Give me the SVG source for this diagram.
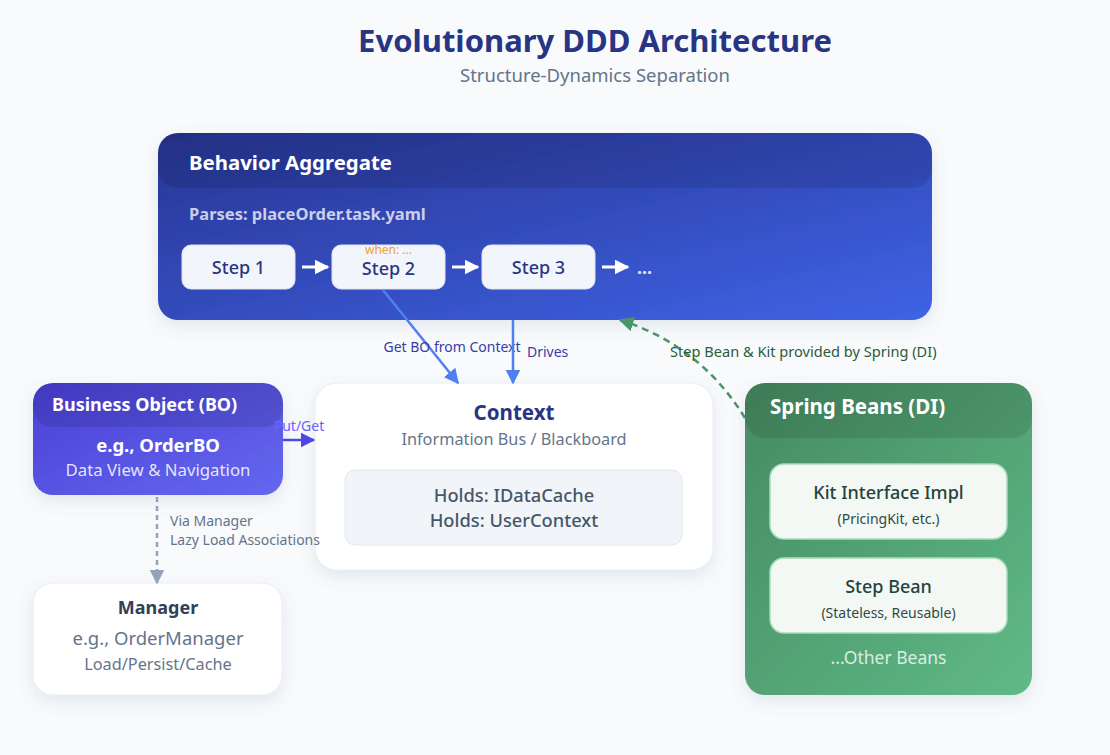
<svg xmlns="http://www.w3.org/2000/svg" width="1110" height="755" viewBox="0 0 1110 755">
<defs>
<linearGradient id="gBA" x1="0" y1="0" x2="1" y2="1">
<stop offset="0" stop-color="#283593"/>
<stop offset="1" stop-color="#3f63e6"/>
</linearGradient>
<linearGradient id="gBO" x1="0" y1="0" x2="1" y2="1">
<stop offset="0" stop-color="#4a3fd6"/>
<stop offset="1" stop-color="#6468ef"/>
</linearGradient>
<linearGradient id="gSB" x1="0" y1="0" x2="1" y2="1">
<stop offset="0" stop-color="#468a62"/>
<stop offset="1" stop-color="#5fba86"/>
</linearGradient>
<filter id="sh" x="-10%" y="-10%" width="120%" height="130%">
<feDropShadow dx="0" dy="6" stdDeviation="8" flood-color="#64748b" flood-opacity="0.15"/>
</filter>
<marker id="mBlue" viewBox="0 0 10 10" refX="9" refY="5" markerWidth="6" markerHeight="6" markerUnits="strokeWidth" orient="auto">
<path d="M0,0 L10,5 L0,10 z" fill="#5080f0"/>
</marker>
<marker id="mWhite" viewBox="0 0 10 10" refX="9" refY="5" markerWidth="5" markerHeight="5" markerUnits="strokeWidth" orient="auto">
<path d="M0,0 L10,5 L0,10 z" fill="#ffffff"/>
</marker>
<marker id="mIndigo" viewBox="0 0 10 10" refX="9" refY="5" markerWidth="6" markerHeight="6" markerUnits="strokeWidth" orient="auto">
<path d="M0,0 L10,5 L0,10 z" fill="#4f46e5"/>
</marker>
<marker id="mGray" viewBox="0 0 10 10" refX="9" refY="5" markerWidth="6" markerHeight="6" markerUnits="strokeWidth" orient="auto">
<path d="M0,0 L10,5 L0,10 z" fill="#94a3b8"/>
</marker>
<marker id="mGreen" viewBox="0 0 10 10" refX="9" refY="5" markerWidth="6" markerHeight="6" markerUnits="strokeWidth" orient="auto">
<path d="M0,0 L10,5 L0,10 z" fill="#4a9468"/>
</marker>
<style>
text{font-family:"Noto Sans","Open Sans","Liberation Sans",sans-serif}
.step{fill:#f3f5fc;stroke:#dfe4f5;stroke-width:1}
.stepT{font-size:18px;font-weight:500;fill:#283583;text-anchor:middle}
.bean{fill:#f3f8f5;stroke:#a9dcbb;stroke-width:1.5}
.beanT{font-size:18px;font-weight:500;fill:#24433a;text-anchor:middle}
.beanS{font-size:14px;fill:#2f4b40;text-anchor:middle}
.lbl{font-size:14px}
</style>
</defs>
<rect width="1110" height="755" fill="#f8fafc"/>

<g id="title">
<text x="595" y="52" text-anchor="middle" font-size="31" font-weight="700" fill="#283583">Evolutionary DDD Architecture</text>
<text x="595" y="82" text-anchor="middle" font-size="18.5" fill="#64748b">Structure-Dynamics Separation</text>
</g>

<g id="behavior-aggregate">
<rect x="158" y="133" width="774" height="187" rx="20" fill="url(#gBA)" filter="url(#sh)"/>
<path d="M158,188 V153 a20,20 0 0 1 20,-20 H912 a20,20 0 0 1 20,20 V168 a20,20 0 0 1 -20,20 H178 a20,20 0 0 1 -20,-20 z" fill="#000" fill-opacity="0.1"/>
<text x="189" y="170" font-size="20.4" font-weight="700" fill="#ffffff">Behavior Aggregate</text>
<text x="189" y="220" font-size="16.5" font-weight="700" fill="#ffffff" fill-opacity="0.75">Parses: placeOrder.task.yaml</text>
<g id="step1">
<rect class="step" x="182" y="245" width="113" height="44" rx="9"/>
<text class="stepT" x="238.5" y="274">Step 1</text>
</g>
<g id="step2">
<rect class="step" x="332" y="245" width="113" height="44" rx="9"/>
<text x="388.5" y="254" text-anchor="middle" font-size="12" fill="#f0a030">when: ...</text>
<text class="stepT" x="388.5" y="275">Step 2</text>
</g>
<g id="step3">
<rect class="step" x="482" y="245" width="113" height="44" rx="9"/>
<text class="stepT" x="538.5" y="274">Step 3</text>
</g>
<text x="637" y="274" font-size="18" font-weight="700" fill="#ffffff" fill-opacity="0.85">...</text>
</g>

<g id="business-object">
<rect x="33" y="383" width="250" height="112" rx="20" fill="url(#gBO)" filter="url(#sh)"/>
<path d="M33,427 V403 a20,20 0 0 1 20,-20 H263 a20,20 0 0 1 20,20 V407 a20,20 0 0 1 -20,20 H53 a20,20 0 0 1 -20,-20 z" fill="#000" fill-opacity="0.1"/>
<text x="52" y="411" font-size="18" font-weight="700" fill="#ffffff">Business Object (BO)</text>
<text x="158" y="452" text-anchor="middle" font-size="18.5" font-weight="700" fill="#ffffff">e.g., OrderBO</text>
<text x="158" y="476" text-anchor="middle" font-size="16.8" fill="#ffffff" fill-opacity="0.85">Data View &amp; Navigation</text>
</g>

<g id="context">
<rect x="315" y="383" width="398" height="187" rx="22" fill="#ffffff" stroke="#e8edf4" stroke-width="1" filter="url(#sh)"/>
<text x="514" y="420" text-anchor="middle" font-size="20.5" font-weight="700" fill="#283583">Context</text>
<text x="514" y="445" text-anchor="middle" font-size="16.3" fill="#64748b">Information Bus / Blackboard</text>
<rect x="345" y="470" width="337" height="75" rx="10" fill="#f1f5f9" stroke="#e2e8f0" stroke-width="1"/>
<text x="514" y="502" text-anchor="middle" font-size="18.3" font-weight="500" fill="#475569">Holds: IDataCache</text>
<text x="514" y="527" text-anchor="middle" font-size="18.3" font-weight="500" fill="#475569">Holds: UserContext</text>
</g>

<g id="manager">
<rect x="33" y="583" width="249" height="112" rx="20" fill="#ffffff" stroke="#e8edf4" stroke-width="1" filter="url(#sh)"/>
<text x="158" y="614" text-anchor="middle" font-size="18" font-weight="700" fill="#334155">Manager</text>
<text x="158" y="645" text-anchor="middle" font-size="18.5" fill="#64748b">e.g., OrderManager</text>
<text x="158" y="670" text-anchor="middle" font-size="16.3" fill="#64748b">Load/Persist/Cache</text>
</g>

<g id="spring-beans">
<rect x="745" y="383" width="287" height="312" rx="20" fill="url(#gSB)" filter="url(#sh)"/>
<path d="M745,438 V403 a20,20 0 0 1 20,-20 H1012 a20,20 0 0 1 20,20 V418 a20,20 0 0 1 -20,20 H765 a20,20 0 0 1 -20,-20 z" fill="#000" fill-opacity="0.1"/>
<text x="770" y="414" font-size="20.5" font-weight="700" fill="#ffffff">Spring Beans (DI)</text>
<g id="kit-impl">
<rect class="bean" x="770" y="464" width="237" height="75" rx="14"/>
<text class="beanT" x="888.5" y="499">Kit Interface Impl</text>
<text class="beanS" x="888.5" y="524">(PricingKit, etc.)</text>
</g>
<g id="step-bean">
<rect class="bean" x="770" y="558" width="237" height="75" rx="14"/>
<text class="beanT" x="888.5" y="593">Step Bean</text>
<text class="beanS" x="888.5" y="618">(Stateless, Reusable)</text>
</g>
<text x="888.5" y="664" text-anchor="middle" font-size="17.5" fill="#ffffff" fill-opacity="0.8">...Other Beans</text>
</g>

<g id="connectors">
<line x1="302" y1="267" x2="328" y2="267" stroke="#ffffff" stroke-width="3" marker-end="url(#mWhite)"/>
<line x1="452" y1="267" x2="478" y2="267" stroke="#ffffff" stroke-width="3" marker-end="url(#mWhite)"/>
<line x1="602" y1="267" x2="628" y2="267" stroke="#ffffff" stroke-width="3" marker-end="url(#mWhite)"/>

<line x1="383" y1="290" x2="458" y2="383" stroke="#5080f0" stroke-width="2.5" marker-end="url(#mBlue)"/>
<text class="lbl" x="452" y="352" text-anchor="middle" fill="#3a3aa8">Get BO from Context</text>

<line x1="513" y1="320" x2="513" y2="383" stroke="#5080f0" stroke-width="2.5" marker-end="url(#mBlue)"/>
<text class="lbl" x="527" y="357" fill="#3a3aa8">Drives</text>

<path d="M745,418 Q700,345 620,320" fill="none" stroke="#4a9468" stroke-width="2.5" stroke-dasharray="7,5" marker-end="url(#mGreen)"/>
<text x="670" y="357" font-size="14.6" fill="#2f5a3a">Step Bean &amp; Kit provided by Spring (DI)</text>

<line x1="283" y1="440" x2="314" y2="440" stroke="#4f46e5" stroke-width="2.5" marker-end="url(#mIndigo)"/>
<text x="299" y="431" text-anchor="middle" font-size="14" fill="#6a60ff">Put/Get</text>

<line x1="157" y1="497" x2="157" y2="583" stroke="#94a3b8" stroke-width="2.5" stroke-dasharray="5,4" marker-end="url(#mGray)"/>
<text x="170" y="526" font-size="14" fill="#64748b">Via Manager</text>
<text x="170" y="545" font-size="14" fill="#64748b">Lazy Load Associations</text>
</g>
</svg>
